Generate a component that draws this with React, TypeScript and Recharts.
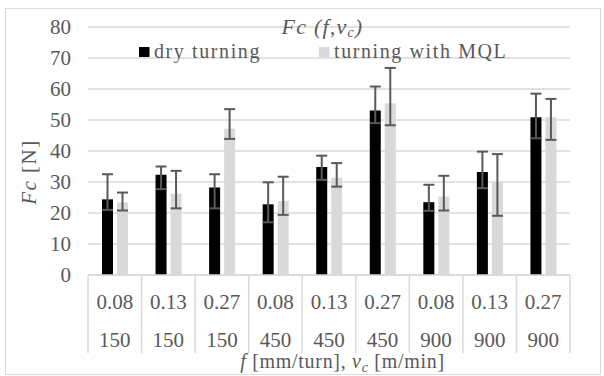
import React from 'react';
import {
  BarChart, Bar, XAxis, YAxis, CartesianGrid, ErrorBar, Legend,
} from 'recharts';

// feed [mm/turn] and cutting speed [m/min] for each test
const feeds = ['0.08', '0.13', '0.27', '0.08', '0.13', '0.27', '0.08', '0.13', '0.27'];
const speeds = ['150', '150', '150', '450', '450', '450', '900', '900', '900'];

// cutting force Fc [N], with the error bar ends
const dryFc = [24.4, 32.3, 28.2, 22.8, 34.8, 53.1, 23.5, 33.2, 50.9];
const dryHigh = [32.5, 35.0, 32.5, 29.9, 38.5, 60.8, 29.1, 39.8, 58.5];
const dryLow = [21.0, 27.7, 21.5, 17.0, 30.7, 49.0, 20.7, 28.0, 44.1];

const mqlFc = [23.4, 26.2, 47.2, 23.9, 31.4, 55.4, 25.3, 29.9, 50.9];
const mqlHigh = [26.6, 33.6, 53.5, 31.7, 36.1, 66.8, 32.0, 39.0, 56.8];
const mqlLow = [20.8, 21.5, 43.9, 19.4, 28.5, 48.3, 20.8, 19.1, 43.6];

const yTicks = [0, 10, 20, 30, 40, 50, 60, 70, 80];

const W = 604;
const H = 376;
const MARGIN = { top: 27, right: 34, bottom: 23, left: 0 };
const Y_AXIS_W = 88;
const X_AXIS_H = 78;
const PLOT_W = W - MARGIN.left - MARGIN.right - Y_AXIS_W;

const TEXT = '#595959';
const LINE = '#d9d9d9';
const FONT = '"Liberation Serif", "Times New Roman", serif';

const data = feeds.map((f, i) => ({
  key: `${f}/${speeds[i]}`,
  dry: dryFc[i],
  mql: mqlFc[i],
  dryErr: [dryFc[i] - dryLow[i], dryHigh[i] - dryFc[i]],
  mqlErr: [mqlFc[i] - mqlLow[i], mqlHigh[i] - mqlFc[i]],
}));

function CategoryTick(props: any) {
  const { x, y, index } = props;
  const band = PLOT_W / feeds.length;
  const left = x - band / 2;
  const right = x + band / 2;
  const txt = { fontFamily: FONT, fontSize: 21, fill: TEXT, textAnchor: 'middle' as const };
  return (
    <g>
      <line x1={left} x2={left} y1={y} y2={y + 78} stroke={LINE} strokeWidth={1.5} />
      {index === feeds.length - 1 && (
        <line x1={right} x2={right} y1={y} y2={y + 78} stroke={LINE} strokeWidth={1.5} />
      )}
      <text x={x} y={y + 34} {...txt}>{feeds[index]}</text>
      <text x={x} y={y + 72} {...txt}>{speeds[index]}</text>
    </g>
  );
}

const legendX = [139, 319];

function renderLegend(props: any) {
  const items = props.payload || [];
  return (
    <svg width={W} height={30} style={{ display: 'block' }}>
      {items.map((it: any, i: number) => (
        <g key={it.value}>
          <rect x={legendX[i]} y={11} width={10.5} height={10} fill={it.color} />
          <text
            x={legendX[i] + 15}
            y={21.5}
            fontFamily={FONT}
            fontSize={20}
            letterSpacing={1.6}
            fill={TEXT}
          >
            {it.value}
          </text>
        </g>
      ))}
    </svg>
  );
}

export default function App() {
  return (
    <div style={{ position: 'fixed', left: 0, top: 0, width: W, height: H, background: '#fff' }}>
      <div
        style={{
          position: 'absolute', left: 5, top: 8, width: 596, height: 367,
          border: `1.5px solid ${LINE}`, boxSizing: 'border-box',
        }}
      />
      <div style={{ position: 'absolute', left: 0, top: 0 }}>
        <BarChart width={W} height={H} data={data} margin={MARGIN} barSize={11} barGap={4}>
          <CartesianGrid vertical={false} stroke={LINE} strokeWidth={1.5} />
          <XAxis
            dataKey="key"
            height={X_AXIS_H}
            interval={0}
            tickLine={false}
            tickSize={0}
            tickMargin={0}
            axisLine={{ stroke: LINE, strokeWidth: 1.5 }}
            tick={<CategoryTick />}
          />
          <YAxis
            width={Y_AXIS_W}
            domain={[0, 80]}
            ticks={yTicks}
            interval={0}
            axisLine={false}
            tickLine={false}
            tickSize={0}
            tickMargin={17}
            tick={{ fontFamily: FONT, fontSize: 21, fill: TEXT }}
          />
          <Legend
            layout="horizontal"
            verticalAlign="middle"
            align="center"
            content={renderLegend}
            wrapperStyle={{ position: 'absolute', top: 36, left: 0, width: W, height: 30 }}
          />
          <Bar dataKey="dry" name="dry turning" fill="#000000" isAnimationActive={false}>
            <ErrorBar dataKey="dryErr" direction="y" width={5.5} stroke={TEXT} strokeWidth={2} isAnimationActive={false} />
          </Bar>
          <Bar dataKey="mql" name="turning with MQL" fill="#d9d9d9" isAnimationActive={false}>
            <ErrorBar dataKey="mqlErr" direction="y" width={5.5} stroke={TEXT} strokeWidth={2} isAnimationActive={false} />
          </Bar>
        </BarChart>
      </div>
      <svg
        width={W}
        height={H}
        style={{ position: 'absolute', left: 0, top: 0, pointerEvents: 'none' }}
        fontFamily={FONT}
        fill={TEXT}
      >
        <text x={322.5} y={34} textAnchor="middle" fontStyle="italic" fontSize={22} letterSpacing={1.2}>
          Fc (f,v<tspan fontSize={14} dy={2.5}>c</tspan><tspan dy={-2.5}>)</tspan>
        </text>
        <text x={342.5} y={368} textAnchor="middle" fontSize={20} letterSpacing={0.7}>
          <tspan fontStyle="italic">f</tspan> [mm/turn], <tspan fontStyle="italic">v</tspan>
          <tspan fontStyle="italic" fontSize={14} dy={4}>c</tspan>
          <tspan dy={-4}> [m/min]</tspan>
        </text>
        <text
          x={0}
          y={0}
          transform="translate(36,172) rotate(-90)"
          textAnchor="middle"
          fontSize={21}
          letterSpacing={1.5}
        >
          <tspan fontStyle="italic">Fc</tspan> [N]
        </text>
      </svg>
    </div>
  );
}
